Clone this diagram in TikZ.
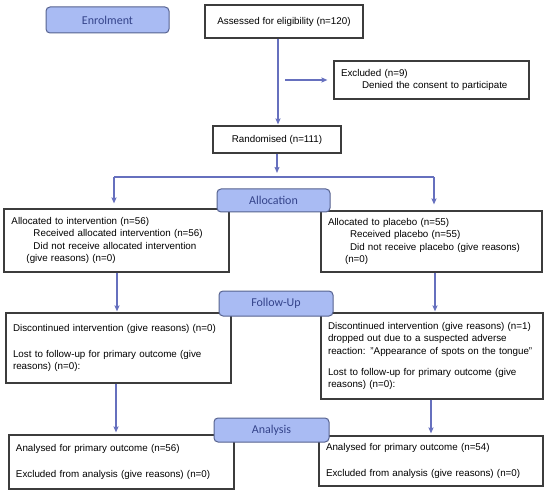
\documentclass[tikz,border=0pt]{standalone}
\usepackage{fontspec}
\setmainfont{Liberation Sans}
\newfontfamily\carlito{Carlito}
\usetikzlibrary{arrows.meta}
\definecolor{boxgray}{HTML}{3C3C3C}
\definecolor{lblfill}{HTML}{A9BBF3}
\definecolor{lblborder}{HTML}{56628F}
\definecolor{lbltext}{HTML}{34438A}
\definecolor{arrblue}{HTML}{6670BE}
\tikzset{
  box/.style={draw=boxgray, line width=1.1pt, fill=white, inner xsep=7pt, inner ysep=0pt,
    align=left, font=\fontsize{9.8}{12.6}\selectfont, anchor=center},
  cbox/.style={box, align=center},
  lbl/.style={draw=lblborder, fill=lblfill, rounded corners=4pt, line width=1pt,
    font=\carlito\fontsize{12}{14}\selectfont, text=lbltext, inner sep=0pt},
  arr/.style={draw=arrblue, line width=1.7pt, -{Stealth[length=6pt,width=5pt,inset=1pt]}},
  ln/.style={draw=arrblue, line width=1.7pt},
}
\begin{document}
\begin{tikzpicture}[x=1pt,y=-1pt]
\useasboundingbox (0,0) rectangle (550,495);
% boxes
\node[cbox, minimum width=158pt, minimum height=33pt] (assess) at (284,21.5) {Assessed for eligibility (n=120)};
\node[box, minimum width=195pt, minimum height=38pt, text width=181pt] (excl) at (431.5,80)
  {Excluded (n=9)\\\hspace*{21pt}Denied the consent to participate};
\node[cbox, minimum width=128pt, minimum height=27pt] (rand) at (277,139.5) {Randomised (n=111)};
\node[box, minimum width=225pt, minimum height=63pt, text width=210pt, inner xsep=7.5pt] (lint) at (116.5,240.5)
  {Allocated to intervention (n=56)\\\hspace*{22pt}Received allocated intervention (n=56)\\\hspace*{22pt}Did not receive allocated intervention\\\hspace*{15pt}(give reasons) (n=0)};
\node[box, minimum width=221pt, minimum height=61pt, text width=207pt] (rint) at (431.5,241.5)
  {Allocated to placebo (n=55)\\\hspace*{22pt}Received placebo (n=55)\\\hspace*{22pt}Did not receive placebo (give reasons)\\\hspace*{17pt}(n=0)};
\node[box, minimum width=225pt, minimum height=70pt, text width=211pt] (lfu) at (118.5,348)
  {Discontinued intervention (give reasons) (n=0)\\[13pt]Lost to follow-up for primary outcome (give\\reasons) (n=0):};
\node[box, minimum width=222pt, minimum height=86pt, text width=208pt] (rfu) at (432,356)
  {Discontinued intervention (give reasons) (n=1)\\dropped out due to a suspected adverse\\\mbox{reaction: "Appearance of spots on the tongue"}\\[8pt]Lost to follow-up for primary outcome (give\\reasons) (n=0):};
\node[box, minimum width=225pt, minimum height=54pt, text width=211pt] (lan) at (121.5,462)
  {Analysed for primary outcome (n=56)\\[12.5pt]Excluded from analysis (give reasons) (n=0)};
\node[box, minimum width=224pt, minimum height=50pt, text width=210pt] (ran) at (431,461)
  {Analysed for primary outcome (n=54)\\[12.5pt]Excluded from analysis (give reasons) (n=0)};
% labels
\node[lbl, minimum width=123pt, minimum height=26pt] (enrol) at (107.5,20) {Enrolment};
\node[lbl, minimum width=113pt, minimum height=23pt] (alloc) at (273.5,200.5) {Allocation};
\node[lbl, minimum width=114pt, minimum height=25pt] (follow) at (276,303.5) {Follow-Up};
\node[lbl, minimum width=115pt, minimum height=24pt] (analysis) at (271.5,430) {Analysis};
% connectors
\coordinate (exstart) at (285,80);
\coordinate (split) at (277,177);
\coordinate (sl) at (114,177);
\coordinate (sr) at (434,177);
\draw[arr, shorten >=1pt] (assess.south -| 278,0) -- (rand.north -| 278,0);
\draw[arr, shorten >=6pt] (exstart) -- (excl.west);
\draw[arr, shorten >=4pt] (rand.south -| 277,0) -- (split);
\draw[ln] (sl) -- (sr);
\draw[arr, shorten >=5pt] (sl) -- (lint.north -| sl);
\draw[arr, shorten >=6pt] (sr) -- (rint.north -| sr);
\draw[arr, shorten >=1pt] (lint.south -| 117,0) -- (lfu.north -| 117,0);
\draw[arr, shorten >=1pt] (rint.south -| 435,0) -- (rfu.north -| 435,0);
\draw[arr, shorten >=2pt] (lfu.south -| 116,0) -- (lan.north -| 116,0);
\draw[arr, shorten >=2pt] (rfu.south -| 431,0) -- (ran.north -| 431,0);
\end{tikzpicture}
\end{document}
